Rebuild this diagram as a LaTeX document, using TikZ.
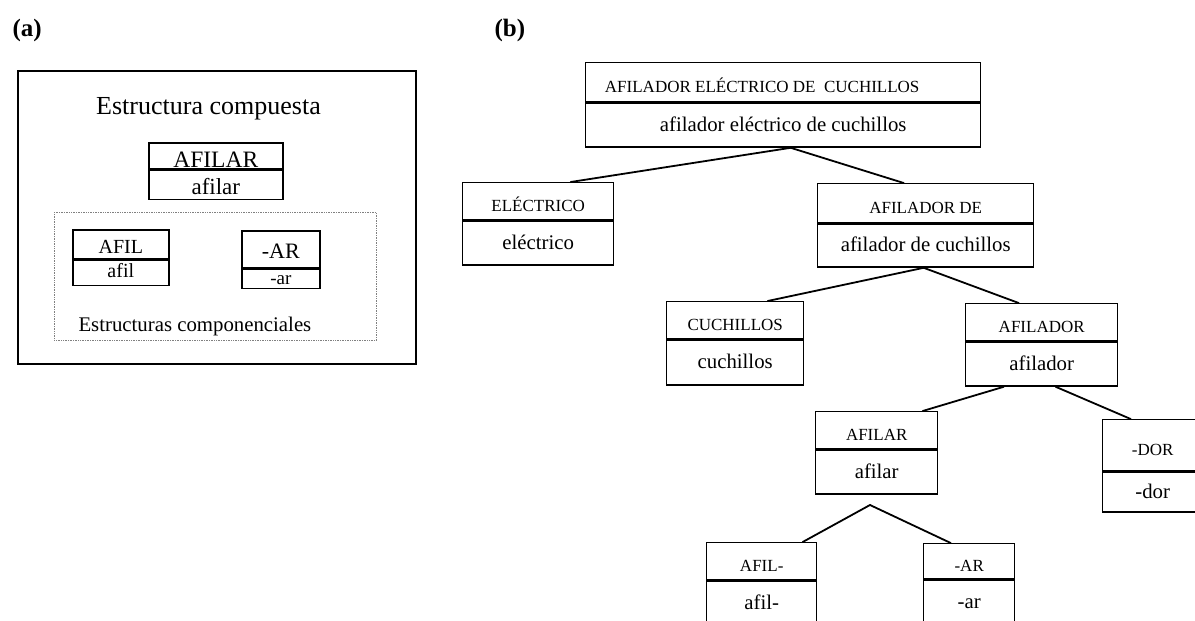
\documentclass[tikz,border=0pt]{standalone}
\usepackage{fontspec}
\setmainfont{Liberation Serif}
\usetikzlibrary{positioning}

\begin{document}
\begin{tikzpicture}[
    x=1pt, y=-1pt,
    headbox/.style={draw, line width=1.4pt, inner sep=0pt, anchor=north west, minimum height=38pt, text height=20pt, text depth=0pt, font=\fontsize{17}{20}\selectfont},
    wordbox/.style={draw, line width=1.4pt, inner sep=0pt, minimum height=44pt, text height=12pt, text depth=0pt, font=\fontsize{20.8}{24}\selectfont},
    mbox/.style={draw, line width=1.6pt, inner sep=0pt, text depth=0pt},
    link/.style={line width=1.8pt, line cap=round},
    caption/.style={anchor=base west, font=\fontsize{25}{28}\selectfont\bfseries}
]
\useasboundingbox (0,0) rectangle (1195,621);
\clip (0,0) rectangle (1195,621);

\node[caption] (capA) at (9,36) {(a)};
\node[caption] (capB) at (491,36) {(b)};

% (a)
\node[draw, line width=1.8pt, anchor=north west, minimum width=398pt, minimum height=293pt] (outer) at (17,70) {};
\node[anchor=base, font=\fontsize{26}{30}\selectfont] (whole) at (208.5,114) {Estructura compuesta};
\node[mbox, anchor=north west, minimum width=134pt, minimum height=26pt, text height=24pt, font=\fontsize{23.5}{26}\selectfont] (wholeU) at (148,142) {AFILAR};
\node[mbox, below=0pt of wholeU, minimum width=134pt, minimum height=29pt, text height=19pt, font=\fontsize{23}{26}\selectfont] (wholeL) {afilar};
\node[draw, densely dotted, gray, line width=0.7pt, anchor=north west, minimum width=322pt, minimum height=128pt] (inner) at (54,212) {};
\node[mbox, anchor=north west, minimum width=96pt, minimum height=29pt, text height=19pt, font=\fontsize{20}{24}\selectfont] (stemU) at (72,229) {AFIL};
\node[mbox, below=0pt of stemU, minimum width=96pt, minimum height=25pt, text height=9pt, font=\fontsize{20}{24}\selectfont] (stemL) {afil};
\node[mbox, anchor=north west, minimum width=78pt, minimum height=37pt, text height=19pt, font=\fontsize{22}{24}\selectfont] (sufU) at (241,230) {-AR};
\node[mbox, below=0pt of sufU, minimum width=78pt, minimum height=19pt, text height=11pt, font=\fontsize{19}{22}\selectfont] (sufL) {-ar};
\node[anchor=base west, font=\fontsize{20.8}{24}\selectfont] (parts) at (75,331) {Estructuras componenciales};

% (b)
\node[headbox, minimum width=395pt, minimum height=39pt] (rootU) at (585,62) {AFILADOR ELÉCTRICO DE\ \ CUCHILLOS\hspace*{42pt}};
\node[wordbox, below=0pt of rootU, minimum width=395pt] (rootL) {afilador eléctrico de cuchillos};
\node[headbox, minimum width=151pt, minimum height=37pt] (elecU) at (462,182) {ELÉCTRICO};
\node[wordbox, below=0pt of elecU, minimum width=151pt] (elecL) {eléctrico};
\node[headbox, minimum width=216pt, minimum height=39pt] (afdeU) at (817,183) {AFILADOR DE};
\node[wordbox, below=0pt of afdeU, minimum width=216pt, minimum height=43pt] (afdeL) {afilador de cuchillos};
\node[headbox, minimum width=137pt, minimum height=37pt] (cuchU) at (666,301) {CUCHILLOS};
\node[wordbox, below=0pt of cuchU, minimum width=137pt, minimum height=45pt] (cuchL) {cuchillos};
\node[headbox, minimum width=152pt, minimum height=37pt] (afdorU) at (965,303) {AFILADOR};
\node[wordbox, below=0pt of afdorU, minimum width=152pt] (afdorL) {afilador};
\node[headbox, minimum width=122pt, minimum height=37pt] (afilarU) at (815,411) {AFILAR};
\node[wordbox, below=0pt of afilarU, minimum width=122pt] (afilarL) {afilar};
\node[headbox, minimum width=100pt, minimum height=51pt] (dorU) at (1102,419) {-DOR};
\node[wordbox, below=0pt of dorU, minimum width=100pt, minimum height=40pt] (dorL) {-dor};
\node[headbox, minimum width=110pt, minimum height=37pt] (afilU) at (706,542) {AFIL-};
\node[wordbox, below=0pt of afilU, minimum width=110pt] (afilL) {afil-};
\node[headbox, minimum width=91pt, minimum height=35pt] (arU) at (923,543) {-AR};
\node[wordbox, below=0pt of arU, minimum width=91pt] (arL) {-ar};

\coordinate (rootFoot) at ([xshift=7.5pt]rootL.south);
\coordinate (elecTop) at ([xshift=32.5pt]elecU.north);
\coordinate (afdeTop) at ([xshift=-22pt]afdeU.north);
\coordinate (afdeFoot) at ([xshift=-2pt]afdeL.south);
\coordinate (cuchTop) at ([xshift=32.5pt]cuchU.north);
\coordinate (afdorTop) at ([xshift=-23pt]afdorU.north);
\coordinate (afdorFootL) at ([xshift=-38pt]afdorL.south);
\coordinate (afdorFootR) at ([xshift=14pt]afdorL.south);
\coordinate (afilarTop) at ([xshift=46pt]afilarU.north);
\coordinate (dorTop) at ([xshift=-22pt]dorU.north);
\coordinate (split) at (870,505);
\coordinate (afilTop) at ([xshift=41pt]afilU.north);
\coordinate (arTop) at ([xshift=-18.5pt]arU.north);

\foreach \a/\b in {rootFoot/elecTop, rootFoot/afdeTop, afdeFoot/cuchTop, afdeFoot/afdorTop, afdorFootL/afilarTop, afdorFootR/dorTop, split/afilTop, split/arTop}
  \draw[link] (\a) -- (\b);
\end{tikzpicture}
\end{document}
